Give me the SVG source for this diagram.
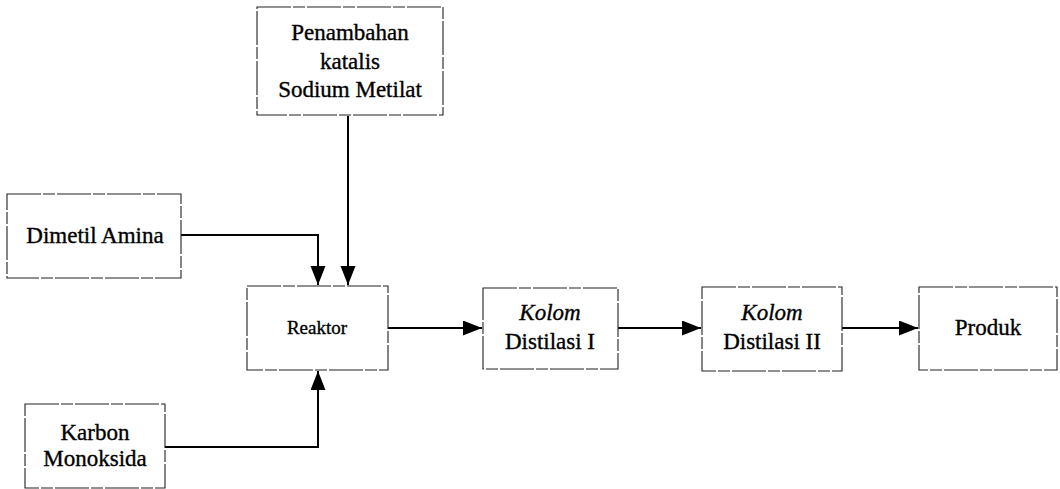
<svg xmlns="http://www.w3.org/2000/svg" width="1060" height="489" viewBox="0 0 1060 489">
<style>
.box{fill:#fff;stroke:#222;stroke-width:1.1;stroke-dasharray:34 2 12 2}
.t{font-family:"Liberation Serif","Times New Roman",serif;font-size:23px;fill:#000;stroke:#000;stroke-width:0.35;text-anchor:middle}
.s{font-size:19px}
.i{font-style:italic}
.c{fill:none;stroke:#000;stroke-width:2}
</style>
<defs>
<marker id="ah" markerUnits="userSpaceOnUse" markerWidth="20" markerHeight="16" refX="19" refY="7.5" orient="auto">
<path d="M0,0 L19,7.5 L0,15 z" fill="#000"/>
</marker>
</defs>
<g id="connectors">
<path class="c" d="M348,116 V285" marker-end="url(#ah)"/>
<path class="c" d="M181,235 H318 V285" marker-end="url(#ah)"/>
<path class="c" d="M165,447 H318 V371" marker-end="url(#ah)"/>
<path class="c" d="M388,328 H482" marker-end="url(#ah)"/>
<path class="c" d="M618,328 H701" marker-end="url(#ah)"/>
<path class="c" d="M842,328 H918" marker-end="url(#ah)"/>
</g>
<g id="penambahan">
<rect class="box" x="257" y="7" width="186" height="108"/>
<text class="t" x="350" y="40">Penambahan</text>
<text class="t" x="350" y="69">katalis</text>
<text class="t" x="350" y="97">Sodium Metilat</text>
</g>
<g id="dimetil">
<rect class="box" x="7" y="194" width="174" height="84"/>
<text class="t" x="95" y="243">Dimetil Amina</text>
</g>
<g id="karbon">
<rect class="box" x="25" y="404" width="140" height="84"/>
<text class="t" x="95" y="440">Karbon</text>
<text class="t" x="95" y="466">Monoksida</text>
</g>
<g id="reaktor">
<rect class="box" x="247" y="286" width="141" height="84"/>
<text class="t s" x="317" y="334">Reaktor</text>
</g>
<g id="kolom1">
<rect class="box" x="483" y="288" width="135" height="81"/>
<text class="t i" x="550" y="320">Kolom</text>
<text class="t" x="550" y="349">Distilasi I</text>
</g>
<g id="kolom2">
<rect class="box" x="702" y="287" width="140" height="84"/>
<text class="t i" x="772" y="320">Kolom</text>
<text class="t" x="772" y="349">Distilasi II</text>
</g>
<g id="produk">
<rect class="box" x="919" y="287" width="138" height="83"/>
<text class="t" x="988" y="335">Produk</text>
</g>
</svg>
